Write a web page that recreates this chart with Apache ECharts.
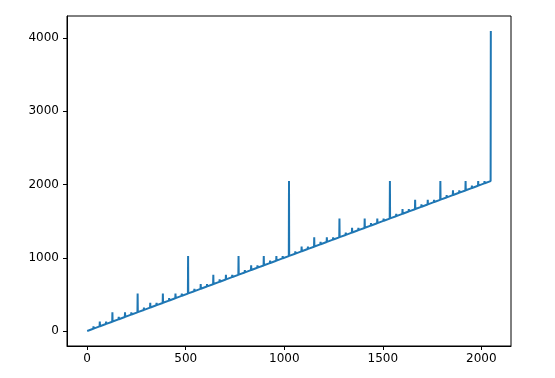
<!DOCTYPE html>
<html>
<head>
<meta charset="utf-8">
<script src="https://cdn.jsdelivr.net/npm/echarts@6/dist/echarts.min.js"></script>
<style>html,body{margin:0;padding:0;background:#fff}#c{width:555px;height:378px}</style>
</head>
<body>
<div id="c"></div>
<script>
// Spike positions (x) and the peak value read at each spike; between spikes the line follows y = x.
var spikeX = [32,64,96,128,160,192,224,256,288,320,352,384,416,448,480,512,544,576,608,640,672,704,736,768,800,832,864,896,928,960,992,1024,
  1056,1088,1120,1152,1184,1216,1248,1280,1312,1344,1376,1408,1440,1472,1504,1536,1568,1600,1632,1664,1696,1728,1760,1792,1824,1856,1888,1920,1952,1984,2016,2048];
var spikeY = [64,128,128,256,192,256,256,512,320,384,384,512,448,512,512,1024,576,640,640,768,704,768,768,1024,832,896,896,1024,960,1024,1024,2048,
  1088,1152,1152,1280,1216,1280,1280,1536,1344,1408,1408,1536,1472,1536,1536,2048,1600,1664,1664,1792,1728,1792,1792,2048,1856,1920,1920,2048,1984,2048,2048,4096];
var xTicks = [0,500,1000,1500,2000];
var yTicks = [0,1000,2000,3000,4000];

var data = [[0,0]];
for (var i = 0; i < spikeX.length; i++) {
  var x = spikeX[i];
  data.push([x-1, x-1]);
  data.push([x, spikeY[i]]);
  if (i < spikeX.length - 1) data.push([x+1, x+1]);
}

var chart = echarts.init(document.getElementById('c'), null, {renderer:'canvas'});
var font = 'DejaVu Sans';
function fmt(v){ return String(Math.round(v)); }
chart.setOption({
  animation: false,
  grid: {left:67, right:44, top:16, bottom:32, show:true, borderColor:'#000', borderWidth:1, backgroundColor:'transparent'},
  xAxis: {
    type:'value', min:-102.4, max:2150.4,
    axisLine:{show:true, onZero:false, lineStyle:{color:'#000', width:1}},
    axisTick:{show:true, inside:false, length:4, customValues:xTicks, lineStyle:{color:'#000'}},
    axisLabel:{show:true, customValues:xTicks, formatter:fmt, margin:7, color:'#000', fontSize:12, fontFamily:font},
    splitLine:{show:false}
  },
  yAxis: {
    type:'value', min:-204.8, max:4300.8,
    axisLine:{show:true, onZero:false, lineStyle:{color:'#000', width:1}},
    axisTick:{show:true, inside:false, length:4, customValues:yTicks, lineStyle:{color:'#000'}},
    axisLabel:{show:true, customValues:yTicks, formatter:fmt, margin:8, color:'#000', fontSize:12, fontFamily:font},
    splitLine:{show:false}
  },
  series: [{
    type:'line', data:data, showSymbol:false, symbol:'none',
    lineStyle:{color:'#1f77b4', width:2}, itemStyle:{color:'#1f77b4'}
  }]
});
</script>
</body>
</html>
